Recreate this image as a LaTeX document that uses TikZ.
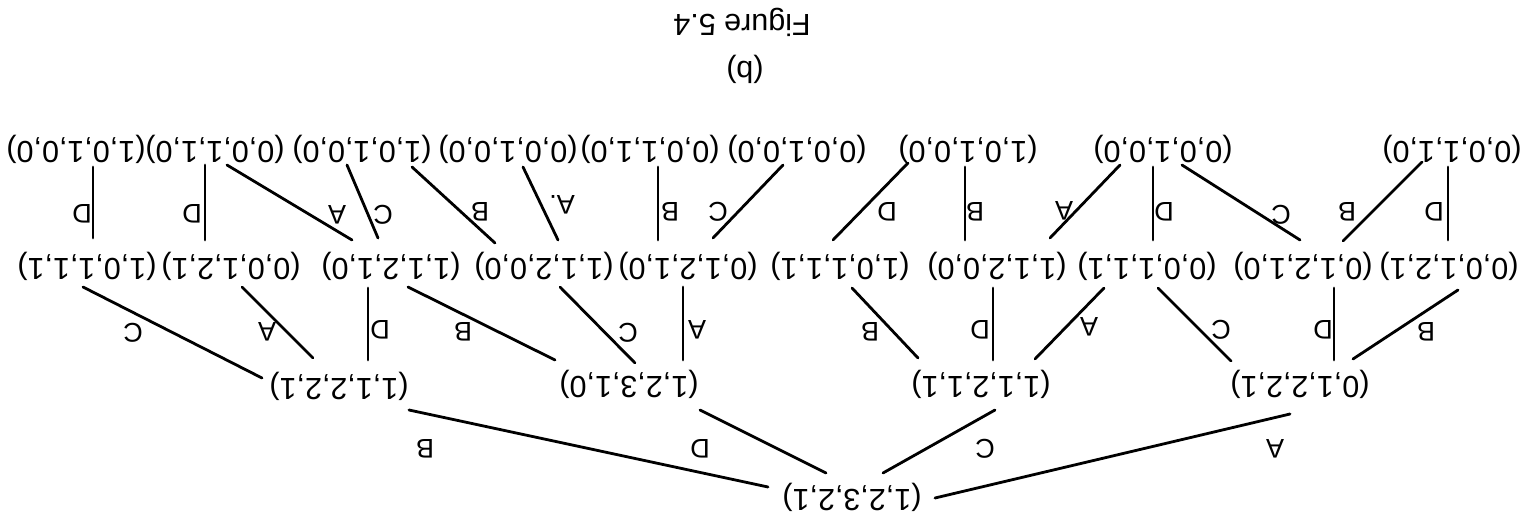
\documentclass[tikz,border=0pt]{standalone}
\usepackage{fontspec}
\setmainfont{Liberation Sans}
\begin{document}
\begin{tikzpicture}[x=1pt,y=-1pt,
  st/.style={rotate=180, inner sep=0pt, font=\fontsize{30.5}{31}\selectfont},
  lb/.style={rotate=180, inner sep=0pt, font=\fontsize{27}{28}\selectfont},
  ln/.style={line width=2.8pt, line cap=round}]
\fill[white] (0,0) rectangle (1526,524);
\useasboundingbox (0,0) rectangle (1526,524);
% titles
\node[st] (fig) at (742,22) {Figure 5.4};
\node[st] (sub) at (745,69) {(b)};
% top row
\node[st] (T1) at (76,149) {(1,0,1,0,0)};
\node[st] (T2) at (215,149) {(0,0,1,1,0)};
\node[st] (T3) at (362,149) {(1,0,1,0,0)};
\node[st] (T4) at (508,149) {(0,0,1,0,0)};
\node[st] (T5) at (650,149) {(0,0,1,1,0)};
\node[st] (T6) at (797,149) {(0,0,1,0,0)};
\node[st] (T7) at (968,149) {(1,0,1,0,0)};
\node[st] (T8) at (1163,149) {(0,0,1,0,0)};
\node[st] (T9) at (1452,149) {(0,0,1,1,0)};
% second row
\node[st] (n1) at (87,266) {(1,0,1,1,1)};
\node[st] (n2) at (231,266) {(0,0,1,2,1)};
\node[st] (n3) at (391,266) {(1,1,2,1,0)};
\node[st] (n4) at (544,266) {(1,1,2,0,0)};
\node[st] (n5) at (688,266) {(0,1,2,1,0)};
\node[st] (n6) at (840,266) {(1,0,1,1,1)};
\node[st] (n7) at (997,266) {(1,1,2,0,0)};
\node[st] (n8) at (1147,266) {(0,0,1,1,1)};
\node[st] (n9) at (1303,266) {(0,1,2,1,0)};
\node[st] (n10) at (1449,266) {(0,0,1,2,1)};
% middle row
\node[st] (M1) at (339,386) {(1,1,2,2,1)};
\node[st] (M2) at (629,384) {(1,2,3,1,0)};
\node[st] (M3) at (981,384) {(1,1,2,1,1)};
\node[st] (M4) at (1300,384) {(0,1,2,2,1)};
% root
\node[st] (R) at (852,497) {(1,2,3,2,1)};

% top-level connectors
\draw[ln] ([shift={(6,-28)}]n1.center) -- ([shift={(17,18)}]T1.center);
\draw[ln] ([shift={(-26,-26)}]n2.center) -- ([shift={(-10,16)}]T2.center);
\draw[ln] ([shift={(-39,-26)}]n3.center) -- ([shift={(12,16)}]T2.center);
\draw[ln] ([shift={(-13,-28)}]n3.center) -- ([shift={(-15,16)}]T3.center);
\draw[ln] ([shift={(-49,-23)}]n4.center) -- ([shift={(50,18)}]T3.center);
\draw[ln] ([shift={(14,-26)}]n4.center) -- ([shift={(15,18)}]T4.center);
\draw[ln] ([shift={(-30,-26)}]n5.center) -- ([shift={(8,18)}]T5.center);
\draw[ln] ([shift={(25,-28)}]n5.center) -- ([shift={(-14,16)}]T6.center);
\draw[ln] ([shift={(-7,-26)}]n6.center) -- ([shift={(-60,14)}]T7.center);
\draw[ln] ([shift={(-32,-26)}]n7.center) -- ([shift={(-3,18)}]T7.center);
\draw[ln] ([shift={(53,-28)}]n7.center) -- ([shift={(-43,16)}]T8.center);
\draw[ln] ([shift={(6,-26)}]n8.center) -- ([shift={(-10,18)}]T8.center);
\draw[ln] ([shift={(-3,-26)}]n9.center) -- ([shift={(19,16)}]T8.center);
\draw[ln] ([shift={(40,-25)}]n9.center) -- ([shift={(-30,13)}]T9.center);
\draw[ln] ([shift={(-1,-26)}]n10.center) -- ([shift={(-4,18)}]T9.center);
% middle-level connectors
\draw[ln] ([shift={(-77,-8)}]M1.center) -- ([shift={(-4,21)}]n1.center);
\draw[ln] ([shift={(-26,-28)}]M1.center) -- ([shift={(11,21)}]n2.center);
\draw[ln] ([shift={(29,-26)}]M1.center) -- ([shift={(-23,22)}]n3.center);
\draw[ln] ([shift={(-74,-24)}]M2.center) -- ([shift={(17,21)}]n3.center);
\draw[ln] ([shift={(6,-21)}]M2.center) -- ([shift={(16,21)}]n4.center);
\draw[ln] ([shift={(54,-24)}]M2.center) -- ([shift={(-5,21)}]n5.center);
\draw[ln] ([shift={(-63,-26)}]M3.center) -- ([shift={(12,22)}]n6.center);
\draw[ln] ([shift={(12,-24)}]M3.center) -- ([shift={(-4,22)}]n7.center);
\draw[ln] ([shift={(54,-25)}]M3.center) -- ([shift={(-43,22)}]n8.center);
\draw[ln] ([shift={(-69,-23)}]M4.center) -- ([shift={(11,22)}]n8.center);
\draw[ln] ([shift={(34,-24)}]M4.center) -- ([shift={(31,22)}]n9.center);
\draw[ln] ([shift={(53,-25)}]M4.center) -- ([shift={(9,24)}]n10.center);
% root connectors
\draw[ln] ([shift={(-84,-10)}]R.center) -- ([shift={(70,24)}]M1.center);
\draw[ln] ([shift={(-26,-24)}]R.center) -- ([shift={(71,26)}]M2.center);
\draw[ln] ([shift={(31,-24)}]R.center) -- ([shift={(14,26)}]M3.center);
\draw[ln] ([shift={(83,1)}]R.center) -- ([shift={(-10,30)}]M4.center);

% labels root level
\node[lb] (lr1) at (425,449) {B};
\node[lb] (lr2) at (700,449) {D};
\node[lb] (lr3) at (985,449) {C};
\node[lb] (lr4) at (1275,449) {A};
% labels middle level
\node[lb] (lm1) at (133,333) {C};
\node[lb] (lm2) at (267,332) {A};
\node[lb] (lm3) at (380,330) {D};
\node[lb] (lm4) at (463,332) {B};
\node[lb] (lm5) at (628,333) {C};
\node[lb] (lm6) at (697,330) {A};
\node[lb] (lm7) at (870,332) {B};
\node[lb] (lm8) at (980,330) {D};
\node[lb] (lm9) at (1089,327) {A};
\node[lb] (lm10) at (1221,330) {C};
\node[lb] (lm11) at (1323,330) {D};
\node[lb] (lm12) at (1426,332) {B};
% labels top level
\node[lb] (lt1) at (82,214) {D};
\node[lb] (lt2) at (192,214) {D};
\node[lb] (lt3) at (337,215) {A};
\node[lb] (lt4) at (383,215) {C};
\node[lb] (lt5) at (480,212) {B};
\node[lb] (lt6) at (562,205) {A.};
\node[lb] (lt7) at (670,212) {B};
\node[lb] (lt8) at (718,212) {C};
\node[lb] (lt9) at (887,212) {D};
\node[lb] (lt10) at (975,212) {B};
\node[lb] (lt11) at (1064,211) {A};
\node[lb] (lt12) at (1164,212) {D};
\node[lb] (lt13) at (1281,215) {C};
\node[lb] (lt14) at (1347,212) {B};
\node[lb] (lt15) at (1434,212) {D};
\end{tikzpicture}
\end{document}
